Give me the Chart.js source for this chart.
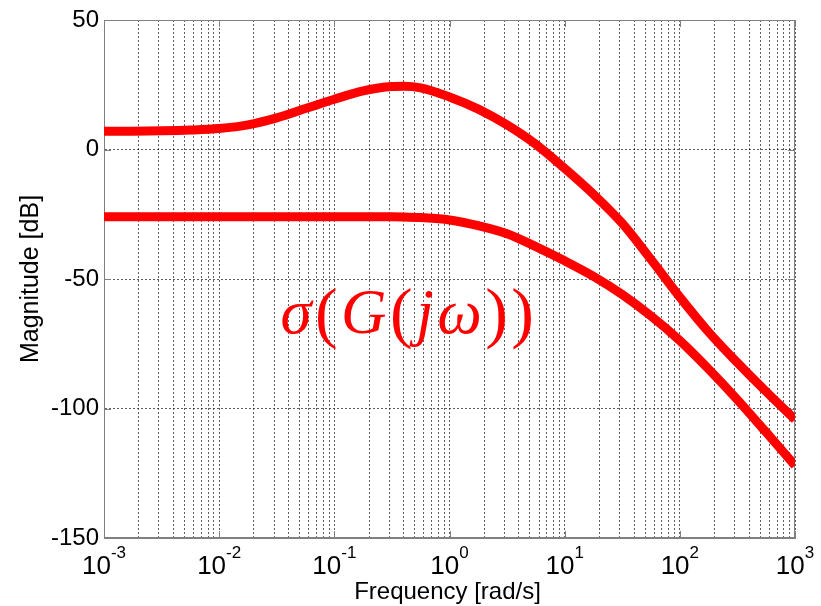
<!DOCTYPE html>
<html>
<head>
<meta charset="utf-8">
<script src="https://cdn.jsdelivr.net/npm/chart.js@4/dist/chart.umd.min.js"></script>
<style>
  html, body { margin: 0; padding: 0; background: #fff; }
</style>
</head>
<body>
<canvas id="bode" width="821" height="606"></canvas>
<script>
// frequency points [rad/s], quarter-decade steps (plus one near the peak)
const freqs = [0.001, 0.00178, 0.00316, 0.00562, 0.01, 0.0178, 0.0316, 0.0562, 0.1, 0.178, 0.316, 0.398, 0.562,
               1, 1.78, 3.16, 5.62, 10, 17.8, 31.6, 56.2, 100, 178, 316, 562, 1000];
// largest singular value [dB]
const sigmaMax = [7.0, 7.05, 7.2, 7.5, 8.1, 9.5, 12.2, 15.8, 19.4, 22.6, 24.3, 24.4, 23.8,
                  20.3, 15.6, 9.5, 2.0, -7.3, -17.3, -28.5, -42.5, -57.0, -70.5, -82.3, -93.5, -104.3];
// smallest singular value [dB]
const sigmaMin = [-26.0, -26.0, -26.0, -26.0, -26.0, -26.0, -26.0, -26.0, -26.0, -26.0, -26.0, -26.05, -26.3,
                  -27.2, -29.4, -32.5, -37.5, -43.0, -49.0, -56.0, -64.3, -73.8, -84.8, -96.6, -109.2, -122.0];

const yTicks = [-150, -100, -50, 0, 50];
const decades = [-3, -2, -1, 0, 1, 2, 3];
const xTitle = 'Frequency [rad/s]';
const yTitle = 'Magnitude [dB]';
// annotation text, split into italic (math) and upright pieces
const annPieces = [['σ', 'i'], ['(', 'r'], ['G', 'i'], ['(', 'r'], ['j', 'i'], ['ω', 'i'], [')', 'r'], [')', 'r']];
const annAt = { x: 0.034, y: -70.8 };

const SANS = '"Liberation Sans", Arial, sans-serif';
const SERIF = '"Liberation Serif", "Times New Roman", serif';
const gridCol = 'rgba(40,40,40,0.75)';
const boxCol = '#808080';

function logTicks() {
  const out = [];
  for (let d = decades[0]; d < decades[decades.length - 1]; d++) {
    for (let m = 1; m < 10; m++) out.push({ value: m * Math.pow(10, d) });
  }
  out.push({ value: Math.pow(10, decades[decades.length - 1]) });
  return out;
}

const decorPlugin = {
  id: 'decor',
  beforeDatasetsDraw(chart) {
    const { ctx, chartArea: a, scales } = chart;
    ctx.save();
    ctx.strokeStyle = boxCol;
    ctx.lineWidth = 1;
    ctx.strokeRect(a.left + 0.5, a.top + 0.5, a.right - a.left - 1, a.bottom - a.top - 1);
    // inside tick marks at major positions
    ctx.beginPath();
    decades.forEach(d => {
      const x = Math.round(scales.x.getPixelForValue(Math.pow(10, d))) + 0.5;
      ctx.moveTo(x, a.bottom); ctx.lineTo(x, a.bottom - 7);
      ctx.moveTo(x, a.top); ctx.lineTo(x, a.top + 7);
    });
    yTicks.forEach(v => {
      const y = Math.round(scales.y.getPixelForValue(v)) + 0.5;
      ctx.moveTo(a.left, y); ctx.lineTo(a.left + 7, y);
      ctx.moveTo(a.right, y); ctx.lineTo(a.right - 7, y);
    });
    ctx.stroke();
    ctx.restore();
  },
  afterDraw(chart) {
    const { ctx, chartArea: a, scales } = chart;
    ctx.save();
    ctx.fillStyle = '#000';
    ctx.textBaseline = 'alphabetic';
    ctx.textAlign = 'left';

    // x tick labels 10^n
    decades.forEach(d => {
      const px = scales.x.getPixelForValue(Math.pow(10, d));
      const exp = String(d);
      ctx.font = '26px ' + SANS;
      const wb = ctx.measureText('10').width;
      ctx.font = '17px ' + SANS;
      const we = ctx.measureText(exp).width;
      const x0 = px - (wb + we) / 2;
      ctx.font = '26px ' + SANS;
      ctx.fillText('10', x0, a.bottom + 36);
      ctx.font = '17px ' + SANS;
      ctx.fillText(exp, x0 + wb, a.bottom + 20);
    });

    // axis titles
    ctx.font = '24px ' + SANS;
    ctx.textAlign = 'center';
    ctx.fillText(xTitle, (a.left + a.right) / 2 - 2, a.bottom + 61);
    ctx.save();
    ctx.translate(31, (a.top + a.bottom) / 2);
    ctx.rotate(-Math.PI / 2);
    ctx.font = '25px ' + SANS;
    ctx.textBaseline = 'middle';
    ctx.fillText(yTitle, 0, 0);
    ctx.restore();

    // annotation sigma(G(jw))
    ctx.fillStyle = '#ff0000';
    ctx.textAlign = 'left';
    ctx.textBaseline = 'alphabetic';
    let x = scales.x.getPixelForValue(annAt.x);
    const base = scales.y.getPixelForValue(annAt.y);
    annPieces.forEach(([t, s]) => {
      ctx.font = s === 'i' ? 'italic 63px ' + SERIF : '68px ' + SERIF;
      ctx.fillText(t, x, s === 'i' ? base : base + 2);
      x += ctx.measureText(t).width + 3.5;
    });
    ctx.restore();
  }
};

const gridOpts = { color: gridCol, lineWidth: 1, drawTicks: false };
const borderOpts = { display: true, color: boxCol, width: 1, dash: [2, 2] };

function curve(label, values) {
  return {
    label: label,
    data: freqs.map((f, i) => ({ x: f, y: values[i] })),
    borderColor: '#ff0000',
    borderWidth: 9,
    pointRadius: 0,
    fill: false,
    cubicInterpolationMode: 'monotone',
    borderCapStyle: 'butt',
    borderJoinStyle: 'round'
  };
}

new Chart(document.getElementById('bode'), {
  type: 'line',
  data: {
    datasets: [curve('sigma max', sigmaMax), curve('sigma min', sigmaMin)]
  },
  options: {
    responsive: false,
    devicePixelRatio: 1,
    animation: false,
    layout: { padding: { top: 20, right: 26, left: 0, bottom: 0 } },
    plugins: { legend: { display: false }, tooltip: { enabled: false } },
    scales: {
      x: {
        type: 'logarithmic',
        min: 0.001,
        max: 1000,
        afterBuildTicks: s => { s.ticks = logTicks(); },
        afterFit: s => { s.height = 68; },
        ticks: { display: false, autoSkip: false },
        grid: gridOpts,
        border: borderOpts
      },
      y: {
        type: 'linear',
        min: -150,
        max: 50,
        afterBuildTicks: s => { s.ticks = yTicks.map(v => ({ value: v })); },
        afterFit: s => { s.width = 104; },
        ticks: { color: '#000', font: { family: SANS, size: 24 }, padding: 5 },
        grid: gridOpts,
        border: borderOpts
      }
    }
  },
  plugins: [decorPlugin]
});
</script>
</body>
</html>
